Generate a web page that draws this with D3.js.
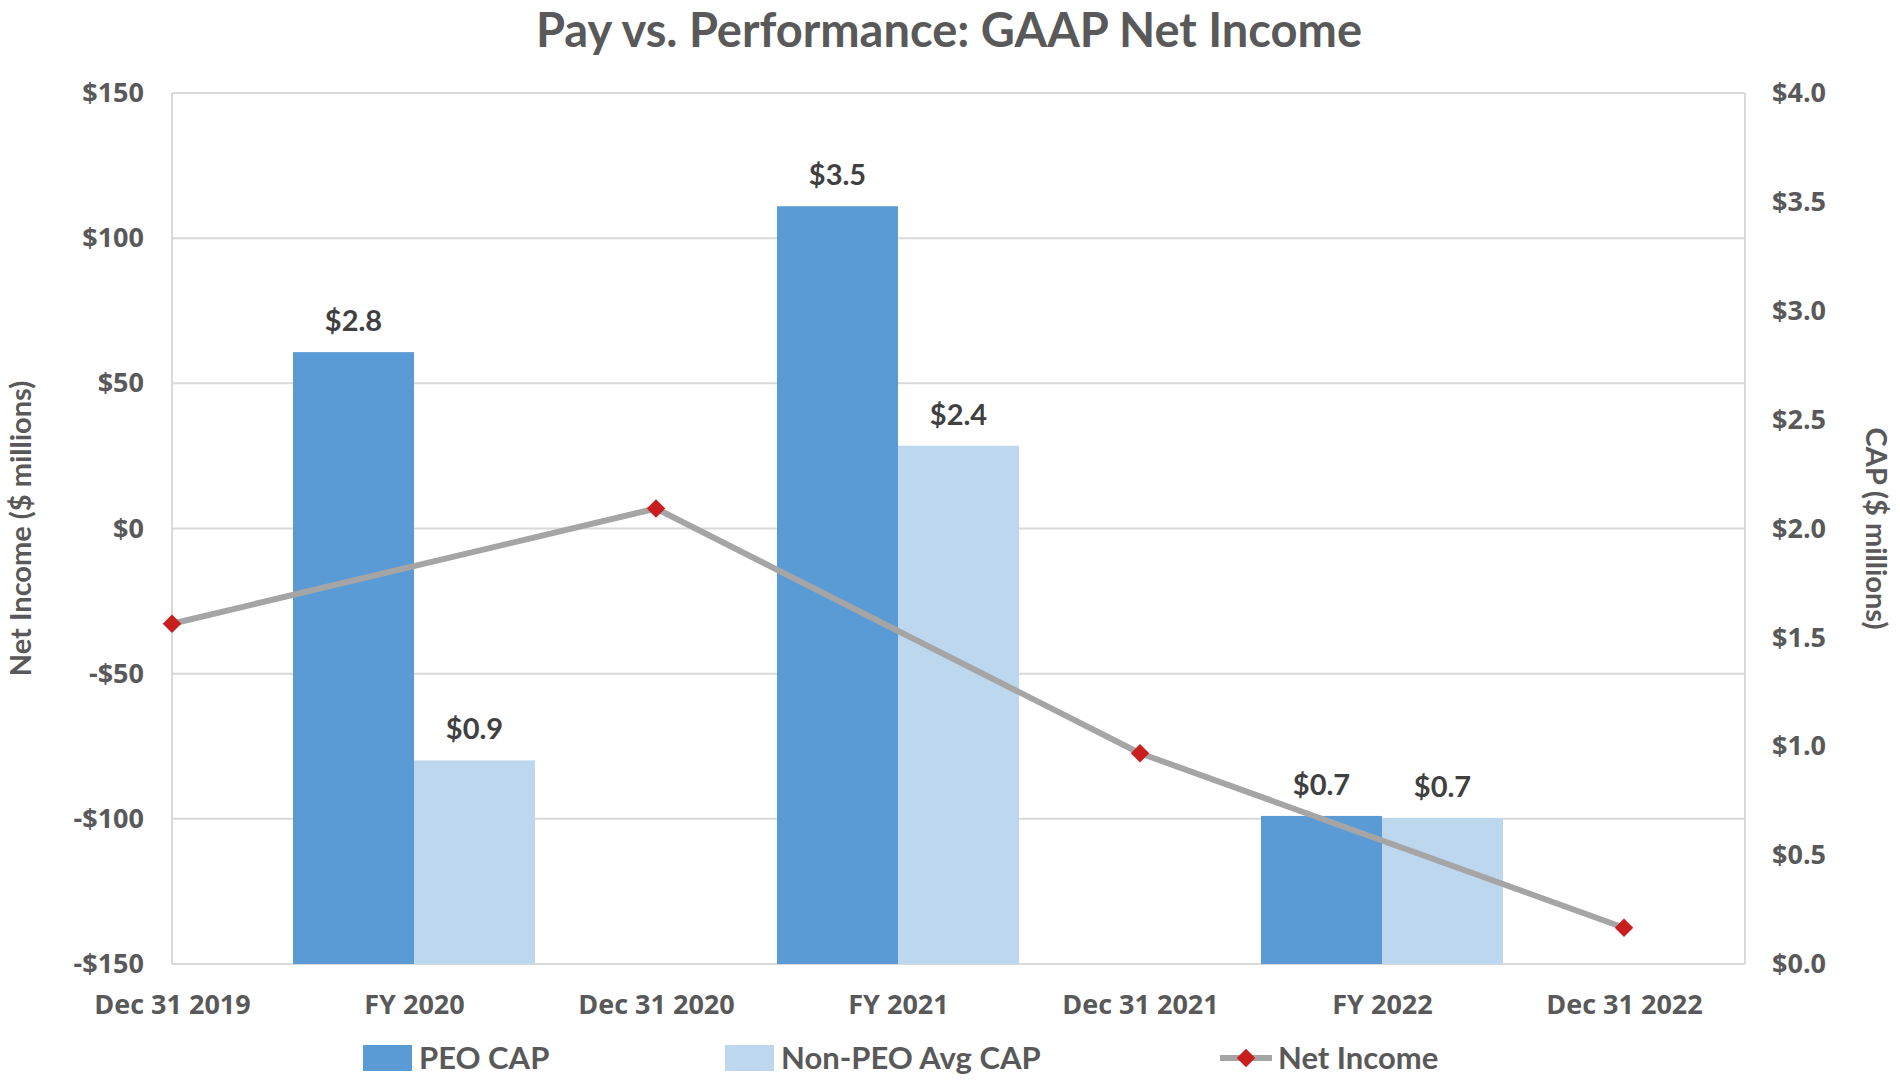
<!DOCTYPE html>
<html>
<head>
<meta charset="utf-8">
<script src="https://cdn.jsdelivr.net/npm/d3@7"></script>
<style>
  body { margin: 0; background: #fff; }
  svg { display: block; }
</style>
</head>
<body>
<div id="chart"></div>
<script>
// chart data
const categories = ["Dec 31 2019", "FY 2020", "Dec 31 2020", "FY 2021", "Dec 31 2021", "FY 2022", "Dec 31 2022"];
const barYears = ["FY 2020", "FY 2021", "FY 2022"];
const peoCap = [2.81, 3.48, 0.68];
const nonPeoCap = [0.935, 2.38, 0.67];
const incomeDates = ["Dec 31 2019", "Dec 31 2020", "Dec 31 2021", "Dec 31 2022"];
const netIncome = [-32.8, 6.9, -77.4, -137.5];
const leftTicks = [-150, -100, -50, 0, 50, 100, 150];
const rightTicks = [0, 0.5, 1, 1.5, 2, 2.5, 3, 3.5, 4];
const legendItems = ["PEO CAP", "Non-PEO Avg CAP", "Net Income"];

let width = 1900;
let height = 1082;
let plot = { left: 172, right: 1745, top: 93, bottom: 964 };
let peoColor = "#5b9bd5";
let nonPeoColor = "#bdd7ee";
let lineColor = "#a5a5a5";
let markerColor = "#c81e1e";
let axisText = "#595959";
let tickFont = "'Open Sans', sans-serif";
let labelFont = "Lato, 'Open Sans', sans-serif";

var svg = d3.select("#chart").append("svg")
    .attr("width", width)
    .attr("height", height);

var x = d3.scaleLinear()
    .domain([0, categories.length - 0.5])
    .range([plot.left, plot.right]);
var yLeft = d3.scaleLinear().domain([-150, 150]).range([plot.bottom, plot.top]);
var yRight = d3.scaleLinear().domain([0, 4]).range([plot.bottom, plot.top]);

let pos = name => x(categories.indexOf(name));
let barW = x(0.5) - x(0);
let money0 = v => (v < 0 ? "-$" : "$") + d3.format(",")(Math.abs(v));
let money1 = v => "$" + d3.format(".1f")(v);

// gridlines from the left axis
svg.append("g")
    .selectAll("line")
    .data(leftTicks)
    .join("line")
    .attr("x1", plot.left).attr("x2", plot.right)
    .attr("y1", d => yLeft(d)).attr("y2", d => yLeft(d))
    .attr("stroke", "#d9d9d9")
    .attr("stroke-width", 2);

// plot area side borders
svg.append("g")
    .selectAll("line")
    .data([plot.left, plot.right])
    .join("line")
    .attr("x1", d => d).attr("x2", d => d)
    .attr("y1", plot.top).attr("y2", plot.bottom)
    .attr("stroke", "#d9d9d9")
    .attr("stroke-width", 2);

// left axis
var leftAxis = svg.append("g")
    .attr("transform", `translate(${plot.left - 28},0)`)
    .call(d3.axisLeft(yLeft).tickValues(leftTicks).tickFormat(money0).tickSize(0));
leftAxis.select(".domain").remove();

// right axis
var rightAxis = svg.append("g")
    .attr("transform", `translate(${plot.right + 27},0)`)
    .call(d3.axisRight(yRight).tickValues(rightTicks).tickFormat(money1).tickSize(0));
rightAxis.select(".domain").remove();

// category axis
var bottomAxis = svg.append("g")
    .attr("transform", `translate(0,${plot.bottom + 28})`)
    .call(d3.axisBottom(x).tickValues(d3.range(categories.length)).tickFormat(i => categories[i]).tickSize(0));
bottomAxis.select(".domain").remove();

svg.selectAll(".tick text")
    .attr("fill", axisText)
    .style("font-family", tickFont)
    .style("font-weight", "bold")
    .style("font-size", "27px");
leftAxis.selectAll(".tick text").attr("x", 0);
rightAxis.selectAll(".tick text").attr("x", 0);

// bars
var bars = svg.append("g");
bars.selectAll("rect.peo")
    .data(barYears)
    .join("rect")
    .attr("class", "peo")
    .attr("x", d => pos(d) - barW)
    .attr("width", barW)
    .attr("y", (d, i) => yRight(peoCap[i]))
    .attr("height", (d, i) => yRight(0) - yRight(peoCap[i]))
    .attr("fill", peoColor);
bars.selectAll("rect.nonpeo")
    .data(barYears)
    .join("rect")
    .attr("class", "nonpeo")
    .attr("x", d => pos(d))
    .attr("width", barW)
    .attr("y", (d, i) => yRight(nonPeoCap[i]))
    .attr("height", (d, i) => yRight(0) - yRight(nonPeoCap[i]))
    .attr("fill", nonPeoColor);

// bar value labels
var labels = svg.append("g")
    .attr("fill", "#404040")
    .style("font-family", labelFont)
    .style("font-weight", "bold")
    .style("font-size", "29px")
    .attr("text-anchor", "middle");
labels.selectAll("text.peo")
    .data(barYears)
    .join("text")
    .attr("x", d => pos(d) - barW / 2)
    .attr("y", (d, i) => yRight(peoCap[i]) - 21)
    .text((d, i) => money1(peoCap[i]));
labels.selectAll("text.nonpeo")
    .data(barYears)
    .join("text")
    .attr("x", d => pos(d) + barW / 2)
    .attr("y", (d, i) => yRight(nonPeoCap[i]) - 21)
    .text((d, i) => money1(nonPeoCap[i]));

// net income line
var line = d3.line()
    .x(d => pos(d))
    .y((d, i) => yLeft(netIncome[i]));
svg.append("path")
    .datum(incomeDates)
    .attr("d", line)
    .attr("fill", "none")
    .attr("stroke", lineColor)
    .attr("stroke-width", 6)
    .attr("stroke-linejoin", "round");

var diamond = d3.symbol(d3.symbolSquare, 170);
svg.append("g")
    .selectAll("path")
    .data(incomeDates)
    .join("path")
    .attr("d", diamond)
    .attr("transform", (d, i) => `translate(${pos(d)},${yLeft(netIncome[i])}) rotate(45)`)
    .attr("fill", markerColor);

// title
svg.append("text")
    .attr("x", 949)
    .attr("y", 47)
    .attr("text-anchor", "middle")
    .attr("fill", axisText)
    .style("font-family", labelFont)
    .style("font-weight", "bold")
    .style("font-size", "47px")
    .text("Pay vs. Performance: GAAP Net Income");

// axis titles
svg.append("text")
    .attr("transform", `translate(31,${(plot.top + plot.bottom) / 2}) rotate(-90)`)
    .attr("text-anchor", "middle")
    .attr("fill", axisText)
    .style("font-family", labelFont)
    .style("font-weight", "bold")
    .style("font-size", "29px")
    .text("Net Income ($ millions)");
svg.append("text")
    .attr("transform", `translate(1866,${(plot.top + plot.bottom) / 2}) rotate(90)`)
    .attr("text-anchor", "middle")
    .attr("fill", axisText)
    .style("font-family", labelFont)
    .style("font-weight", "bold")
    .style("font-size", "29px")
    .text("CAP ($ millions)");

// legend
let legendX = [363, 725, 1220];
var legend = svg.append("g").attr("transform", "translate(0,1058)");
var item = legend.selectAll("g")
    .data(legendItems)
    .join("g")
    .attr("transform", (d, i) => `translate(${legendX[i]},0)`);
item.filter((d, i) => i < 2)
    .append("rect")
    .attr("x", 0).attr("y", -13)
    .attr("width", 49).attr("height", 26)
    .attr("fill", (d, i) => i == 0 ? peoColor : nonPeoColor);
var lineItem = item.filter((d, i) => i == 2);
lineItem.append("line")
    .attr("x1", 0).attr("x2", 52)
    .attr("stroke", lineColor)
    .attr("stroke-width", 6);
lineItem.append("path")
    .attr("d", diamond)
    .attr("transform", "translate(26,0) rotate(45)")
    .attr("fill", markerColor);
item.append("text")
    .attr("x", (d, i) => i == 2 ? 58 : 56)
    .attr("dy", "0.36em")
    .attr("fill", axisText)
    .style("font-family", labelFont)
    .style("font-weight", "bold")
    .style("font-size", "31px")
    .text(d => d);
</script>
</body>
</html>
